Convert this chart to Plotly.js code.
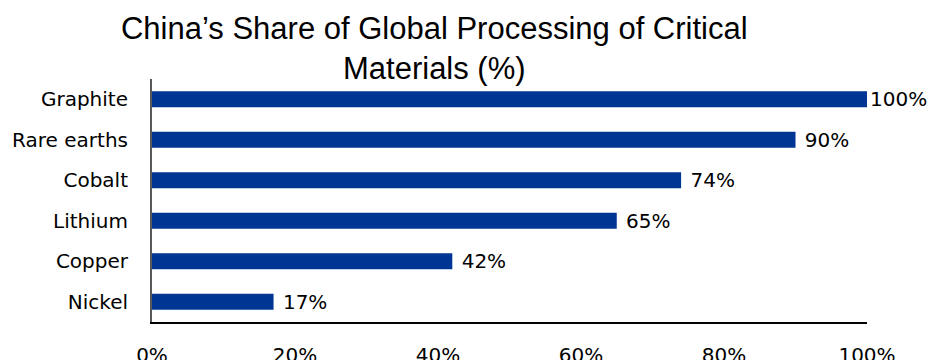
<!DOCTYPE html>
<html>
<head>
<meta charset="utf-8">
<script src="https://cdn.plot.ly/plotly-3.0.1.min.js"></script>
<style>html,body{margin:0;padding:0;background:#fff;}#chart{width:928px;height:360px;}</style>
</head>
<body>
<div id="chart"></div>
<script>
const categories = ["Graphite", "Rare earths", "Cobalt", "Lithium", "Copper", "Nickel"];
const shares = [100, 90, 74, 65, 42, 17];
const xTicks = [0, 20, 40, 60, 80, 100];
const xTickLabels = ["0%", "20%", "40%", "60%", "80%", "100%"];

const trace = {
  type: "bar",
  orientation: "h",
  y: categories,
  x: shares,
  text: shares.map(v => (v < 100 ? "\u00a0" : "") + v + "%"),
  textposition: "outside",
  constraintext: "none",
  cliponaxis: false,
  textfont: {family: "DejaVu Sans", size: 20, color: "#000"},
  marker: {color: "#003594"},
  width: 0.4,
  hoverinfo: "none"
};

const layout = {
  width: 928, height: 360,
  margin: {l: 152, r: 61, t: 79, b: 38, pad: 0},
  paper_bgcolor: "#fff", plot_bgcolor: "#fff",
  showlegend: false,
  title: {
    text: "China’s Share of Global Processing of Critical<br>Materials (%)",
    font: {family: "Liberation Sans, Arial, sans-serif", size: 31, color: "#000"},
    x: 0.468, xref: "container", xanchor: "center",
    y: 0.893, yref: "container", yanchor: "top"
  },
  xaxis: {
    range: [0, 100],
    tickmode: "array", tickvals: xTicks, ticktext: xTickLabels,
    showgrid: false, zeroline: false,
    showline: true, linecolor: "#000", linewidth: 2,
    ticks: "", ticklabelstandoff: 14,
    tickfont: {family: "DejaVu Sans", size: 20, color: "#000"},
    fixedrange: true
  },
  yaxis: {
    type: "category",
    autorange: "reversed",
    showgrid: false, zeroline: false,
    showline: true, linecolor: "#595959", linewidth: 2,
    ticks: "", ticklabelstandoff: 18,
    tickfont: {family: "DejaVu Sans", size: 20, color: "#000"},
    fixedrange: true
  }
};

Plotly.newPlot("chart", [trace], layout, {displayModeBar: false, staticPlot: true});
</script>
</body>
</html>
